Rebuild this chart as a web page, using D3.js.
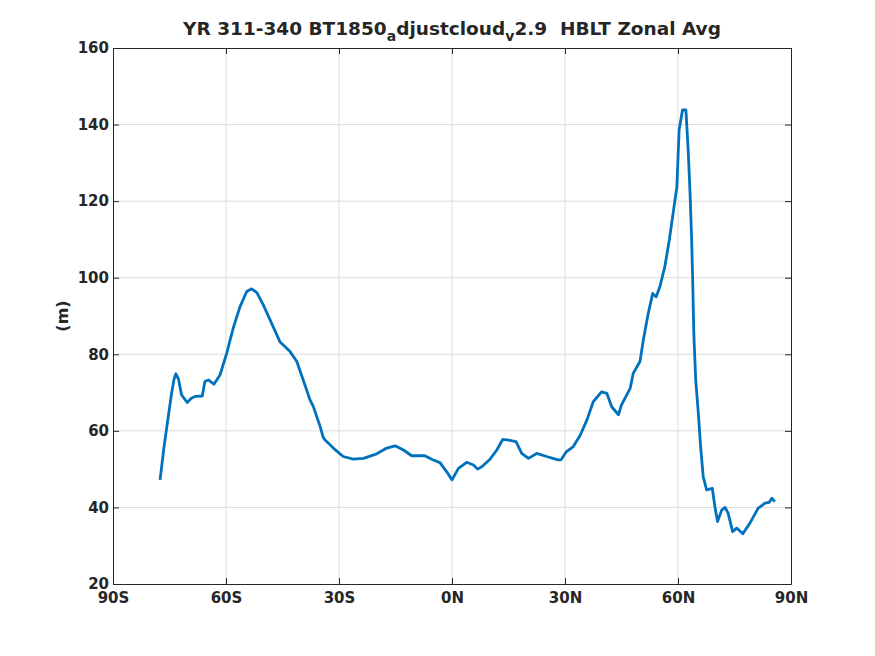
<!DOCTYPE html>
<html>
<head>
<meta charset="utf-8">
<script src="https://cdn.jsdelivr.net/npm/d3@7"></script>
<style>
  body { margin: 0; background: #fff; }
  svg text { font-family: "DejaVu Sans", sans-serif; font-weight: bold; fill: #262626; }
</style>
</head>
<body>
<svg id="chart"></svg>
<script>
// HBLT zonal average
const lat = [-77.5, -76.5, -75.5, -74.5, -73.8, -73.3, -72.6, -71.8, -70.3, -69.2, -68.2, -66.3, -65.6, -64.7, -63.2, -61.6,
  -59.8, -58.1, -56.3, -54.5, -53.2, -51.8, -50.1, -48.3, -45.7, -43.0, -41.2, -39.5, -37.7, -36.8, -35.0, -34.2, -33.7,
  -31.5, -28.9, -26.2, -23.5, -20.0, -17.3, -15.1, -12.9, -10.7, -7.2, -5.0, -3.2, -1.4, 0.0, 1.7, 3.9, 5.7, 6.8, 7.9,
  10.1, 11.9, 13.5, 15.0, 17.0, 18.5, 20.3, 22.5, 25.1, 28.2, 28.9, 30.4, 32.2, 34.0, 35.8, 37.5, 39.7, 41.1, 42.4, 44.2,
  45.0, 47.3, 48.1, 49.9, 50.8, 52.1, 53.3, 54.2, 55.2, 56.5, 57.7, 58.7, 59.7, 60.3, 61.2, 62.1, 62.7, 63.2, 63.6, 63.9,
  64.2, 64.7, 65.4, 66.0, 66.7, 67.6, 69.1, 69.8, 70.5, 71.6, 72.5, 73.3, 74.5, 75.6, 77.2, 79.1, 81.3, 83.1, 84.2, 84.9, 85.7];
const hblt = [47.2, 55.5, 62.5, 69.5, 73.5, 74.9, 73.5, 69.4, 67.4, 68.5, 69.0, 69.1, 72.9, 73.3, 72.2, 74.6,
  80.3, 86.8, 92.4, 96.4, 97.1, 96.1, 92.9, 89.0, 83.3, 80.7, 78.1, 73.3, 68.1, 66.3, 61.1, 58.3, 57.6,
  55.5, 53.3, 52.6, 52.8, 54.0, 55.5, 56.1, 55.0, 53.5, 53.5, 52.4, 51.7, 49.3, 47.2, 50.2, 51.8, 51.1, 50.0, 50.6,
  52.6, 55.0, 57.8, 57.6, 57.2, 54.1, 52.8, 54.1, 53.3, 52.4, 52.4, 54.6, 55.9, 58.8, 62.8, 67.6, 70.2, 69.8, 66.3, 64.2,
  66.8, 71.1, 75.0, 78.1, 83.7, 90.7, 95.9, 95.0, 97.7, 102.9, 109.9, 116.8, 123.8, 138.6, 143.8, 143.8, 133.4, 122.1, 110.7, 99.4,
  85.5, 73.3, 64.6, 55.9, 48.0, 44.6, 45.0, 40.2, 36.3, 39.3, 40.0, 38.5, 33.7, 34.6, 33.1, 35.9, 39.8, 41.1, 41.3, 42.4, 41.5];

const xTicks = [-90, -60, -30, 0, 30, 60, 90];
const xTickLabels = ["90S", "60S", "30S", "0N", "30N", "60N", "90N"];
const yTicks = [20, 40, 60, 80, 100, 120, 140, 160];

const W = 875, H = 656;
const margin = { left: 113, right: 84, top: 48, bottom: 72 };
const iw = W - margin.left - margin.right;
const ih = H - margin.top - margin.bottom;

const svg = d3.select("#chart").attr("width", W).attr("height", H);

const x = d3.scaleLinear().domain([-90, 90]).range([margin.left, margin.left + iw]);
const y = d3.scaleLinear().domain([20, 160]).range([margin.top + ih, margin.top]);

// グリッド
const grid = svg.append("g");
grid.selectAll("line.gx").data(xTicks.slice(1, -1)).enter().append("line")
  .attr("x1", d => x(d)).attr("x2", d => x(d))
  .attr("y1", margin.top).attr("y2", margin.top + ih)
  .attr("stroke", "#dcdcdc").attr("stroke-width", 1);
grid.selectAll("line.gy").data(yTicks.slice(1, -1)).enter().append("line")
  .attr("y1", d => y(d)).attr("y2", d => y(d))
  .attr("x1", margin.left).attr("x2", margin.left + iw)
  .attr("stroke", "#dcdcdc").attr("stroke-width", 1);

// 軸 (内向きの目盛り)
const xAxis = d3.axisBottom(x).tickValues(xTicks).tickFormat((d, i) => xTickLabels[i])
  .tickSizeInner(-6).tickSizeOuter(0).tickPadding(8);
const yAxis = d3.axisLeft(y).tickValues(yTicks).tickSizeInner(-6).tickSizeOuter(0).tickPadding(4);

const gx = svg.append("g").attr("transform", `translate(0,${margin.top + ih})`).call(xAxis);
const gy = svg.append("g").attr("transform", `translate(${margin.left},0)`).call(yAxis);
const gxTop = svg.append("g").attr("transform", `translate(0,${margin.top})`)
  .call(d3.axisTop(x).tickValues(xTicks).tickFormat("").tickSizeInner(-6).tickSizeOuter(0));
const gyRight = svg.append("g").attr("transform", `translate(${margin.left + iw},0)`)
  .call(d3.axisRight(y).tickValues(yTicks).tickFormat("").tickSizeInner(-6).tickSizeOuter(0));

[gx, gy, gxTop, gyRight].forEach(g => {
  g.select(".domain").attr("stroke", "#262626").attr("stroke-width", 1);
  g.selectAll(".tick line").attr("stroke", "#262626");
  g.selectAll("text").attr("font-size", 15).attr("font-family", "DejaVu Sans").attr("font-weight", "bold").attr("fill", "#262626");
});

// 曲線
svg.append("path")
  .datum(d3.zip(lat, hblt))
  .attr("fill", "none")
  .attr("stroke", "#0072BD")
  .attr("stroke-width", 2.8)
  .attr("stroke-linejoin", "round")
  .attr("d", d3.line().x(d => x(d[0])).y(d => y(d[1])));

// タイトル
const title = svg.append("text")
  .attr("x", margin.left + iw / 2).attr("y", 35)
  .attr("text-anchor", "middle").attr("font-size", 18.5);
title.append("tspan").text("YR 311-340 BT1850");
title.append("tspan").attr("dy", 6).attr("font-size", 14).text("a");
title.append("tspan").attr("dy", -6).text("djustcloud");
title.append("tspan").attr("dy", 6).attr("font-size", 14).text("v");
title.append("tspan").attr("dy", -6).text("2.9  HBLT Zonal Avg").attr("style", "white-space:pre");

// y軸ラベル
svg.append("text")
  .attr("transform", `translate(68,${margin.top + ih / 2}) rotate(-90)`)
  .attr("text-anchor", "middle").attr("font-size", 16).text("(m)");
</script>
</body>
</html>
